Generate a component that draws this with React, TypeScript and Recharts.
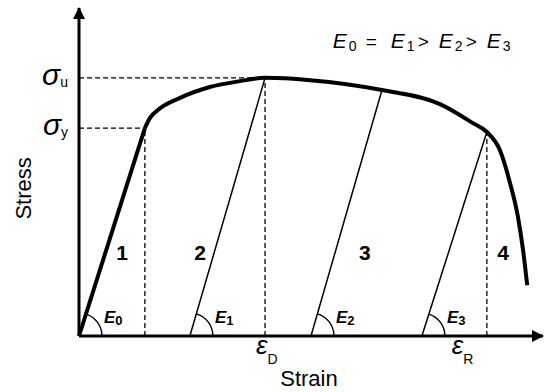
import { ComposedChart, Line, Scatter, XAxis, YAxis, ReferenceLine } from 'recharts';

const FONT = '"Liberation Sans", Arial, Helvetica, sans-serif';

// strain / stress in arbitrary units (0..100 on both axes)
const elasticStrain = [0, 14.2];
const elasticStress = [0, 63.4];

const plasticStrain = [14.2, 15.3, 17.0, 21.8, 28.2, 34.7, 40.1, 49.8, 65.3, 77.8, 84.9, 87.9, 90.7, 92.9, 94.6, 95.7, 96.6];
const plasticStress = [63.4, 66.5, 68.9, 72.6, 75.9, 77.7, 78.7, 78.0, 75.0, 70.7, 64.9, 62.2, 56.7, 46.6, 36.3, 26.2, 15.5];

// unloading lines 2..4
const unloadStartStrain = [23.9, 50.0, 73.9];
const unloadTopStrain = [40.1, 65.3, 87.9];
const unloadTopStress = [78.7, 75.0, 62.2];
const modulusSubs = ['0', '1', '2', '3'];

const regionNames = ['1', '2', '3', '4'];
const regionStrain = [9.3, 26.1, 61.6, 91.4];
const regionStress = [25.6, 25.6, 25.6, 25.6];

const stressTicks = [63.4, 78.7];
const stressTickSubs = ['y', 'u'];
const strainTicks = [40.1, 87.9];
const strainTickSubs = ['D', 'R'];
const strainTickDx = [-9, -35];

// yield, ultimate, rupture points -> dashed guides
const guideStrain = [14.2, 40.1, 87.9];
const guideStress = [63.4, 78.7, 62.2];
const guideToStressAxis = [true, true, false];

const formulaAt = [{ x: 54.7, y: 87.8 }];
const arrowTips = [
  { x: 0, y: 100 },
  { x: 100, y: 0 },
];

const elasticData = elasticStrain.map((x, i) => ({ x, y: elasticStress[i] }));
const plasticData = plasticStrain.map((x, i) => ({ x, y: plasticStress[i] }));
const unloadData = unloadStartStrain.map((s, i) => [
  { x: s, y: 0 },
  { x: unloadTopStrain[i], y: unloadTopStress[i] },
]);
const regionData = regionNames.map((name, i) => ({ x: regionStrain[i], y: regionStress[i], name }));

function modulusDot(sub: string) {
  return (props: any) => {
    const { cx, cy, index, points } = props;
    if (index !== 0 || cx == null) return <g key={`d${index}`} />;
    const next = points && points[1];
    const theta = next ? Math.atan2(cy - next.y, next.x - cx) : (72 * Math.PI) / 180;
    const r = 23;
    const ex = cx + r * Math.cos(theta);
    const ey = cy - r * Math.sin(theta);
    return (
      <g key={`d${index}`}>
        <path d={`M${cx + r},${cy} A${r},${r} 0 0 0 ${ex},${ey}`} fill="none" stroke="#000" strokeWidth={1.4} />
        <text x={cx + 25} y={cy - 13} fontFamily={FONT} fontSize={17} fontWeight="bold" fontStyle="italic" fill="#000">
          E
          <tspan fontSize={13} dy={2} fontStyle="normal">
            {sub}
          </tspan>
        </text>
      </g>
    );
  };
}

const StressTick = (props: any) => {
  const { x, y, payload } = props;
  const i = stressTicks.indexOf(payload.value);
  return (
    <text x={x - 11} y={y + 7} textAnchor="end" fontFamily={FONT} fill="#000">
      <tspan fontSize={30} fontStyle="italic">σ</tspan>
      <tspan fontSize={14} dy={2}>
        {stressTickSubs[i]}
      </tspan>
    </text>
  );
};

const StrainTick = (props: any) => {
  const { x, y, payload } = props;
  const i = strainTicks.indexOf(payload.value);
  return (
    <text x={x + strainTickDx[i]} y={y + 18} fontFamily={FONT} fill="#000">
      <tspan fontSize={26} fontStyle="italic">ε</tspan>
      <tspan fontSize={14} dy={10}>
        {strainTickSubs[i]}
      </tspan>
    </text>
  );
};

const StressTitle = (props: any) => {
  const vb = props.viewBox || { x: 19, y: 8, width: 60, height: 328 };
  const x = vb.x + 5;
  const y = vb.y + vb.height * 0.55;
  return (
    <text x={x} y={y} transform={`rotate(-90 ${x} ${y})`} textAnchor="middle" dominantBaseline="central" fontFamily={FONT} fontSize={22} fill="#000">
      Stress
    </text>
  );
};

const StrainTitle = (props: any) => {
  const vb = props.viewBox || { x: 79, y: 336, width: 464, height: 40 };
  return (
    <text x={vb.x + vb.width / 2 - 2} y={vb.y + 50} textAnchor="middle" fontFamily={FONT} fontSize={22} fill="#000">
      Strain
    </text>
  );
};

const RegionLabel = (props: any) => (
  <text x={props.cx} y={props.cy} textAnchor="middle" dominantBaseline="central" fontFamily={FONT} fontSize={21} fontWeight="bold" fill="#000">
    {props.payload.name}
  </text>
);

const Arrow = (props: any) => {
  const { cx, cy, payload } = props;
  const up = payload && payload.x === 0;
  const pts = up
    ? `${cx},${cy - 1} ${cx - 6},${cy + 11} ${cx + 6},${cy + 11}`
    : `${cx + 1},${cy} ${cx - 11},${cy - 6} ${cx - 11},${cy + 6}`;
  return <polygon points={pts} fill="#000" />;
};

const Formula = (props: any) => {
  const { cx, cy } = props;
  const E = (dx: number, sub: string) => (
    <g>
      <text x={cx + dx} y={cy} fontFamily={FONT} fontSize={21} fontStyle="italic" fill="#000">E</text>
      <text x={cx + dx + 16} y={cy + 3} fontFamily={FONT} fontSize={14} fill="#000">{sub}</text>
    </g>
  );
  const op = (dx: number, s: string) => (
    <text x={cx + dx} y={cy} fontFamily={FONT} fontSize={19} fill="#000">{s}</text>
  );
  return (
    <g>
      {E(0, '0')}
      {op(33, '=')}
      {E(58, '1')}
      {op(85, '>')}
      {E(106, '2')}
      {op(133, '>')}
      {E(154, '3')}
    </g>
  );
};

export default function App() {
  return (
    <div style={{ position: 'absolute', left: 0, top: 0, width: 545, height: 392, background: '#fff' }}>
      <ComposedChart width={545} height={392} margin={{ top: 8, right: 2, bottom: 16, left: 19 }}>
        <XAxis
          type="number"
          dataKey="x"
          domain={[0, 100]}
          ticks={strainTicks}
          tick={<StrainTick />}
          tickLine={false}
          tickSize={0}
          tickMargin={0}
          axisLine={{ stroke: '#000', strokeWidth: 3 }}
          height={40}
          label={{ content: StrainTitle }}
        />
        <YAxis
          type="number"
          dataKey="y"
          domain={[0, 100]}
          ticks={stressTicks}
          tick={<StressTick />}
          tickLine={false}
          tickSize={0}
          tickMargin={0}
          axisLine={{ stroke: '#000', strokeWidth: 3 }}
          width={60}
          label={{ content: StressTitle }}
        />

        {guideStrain.map((gx, i) => (
          <ReferenceLine
            key={`v${i}`}
            segment={[
              { x: gx, y: 0 },
              { x: gx, y: guideStress[i] },
            ]}
            stroke="#000"
            strokeWidth={1.3}
            strokeDasharray="5 3"
          />
        ))}
        {guideStrain.map((gx, i) =>
          guideToStressAxis[i] ? (
            <ReferenceLine
              key={`h${i}`}
              segment={[
                { x: 0, y: guideStress[i] },
                { x: gx, y: guideStress[i] },
              ]}
              stroke="#000"
              strokeWidth={1.3}
              strokeDasharray="5 3"
            />
          ) : null
        )}

        {unloadData.map((d, i) => (
          <Line
            key={`u${i}`}
            data={d}
            dataKey="y"
            type="linear"
            stroke="#000"
            strokeWidth={1.5}
            dot={modulusDot(modulusSubs[i + 1])}
            activeDot={false}
            isAnimationActive={false}
          />
        ))}
        <Line
          data={elasticData}
          dataKey="y"
          type="linear"
          stroke="#000"
          strokeWidth={4}
          dot={modulusDot(modulusSubs[0])}
          activeDot={false}
          isAnimationActive={false}
        />
        <Line
          data={plasticData}
          dataKey="y"
          type="monotone"
          stroke="#000"
          strokeWidth={4}
          strokeLinejoin="round"
          dot={false}
          activeDot={false}
          isAnimationActive={false}
        />

        <Scatter data={regionData} dataKey="y" shape={RegionLabel} isAnimationActive={false} />
        <Scatter data={formulaAt} dataKey="y" shape={Formula} isAnimationActive={false} />
        <Scatter data={arrowTips} dataKey="y" shape={Arrow} isAnimationActive={false} />
      </ComposedChart>
    </div>
  );
}
